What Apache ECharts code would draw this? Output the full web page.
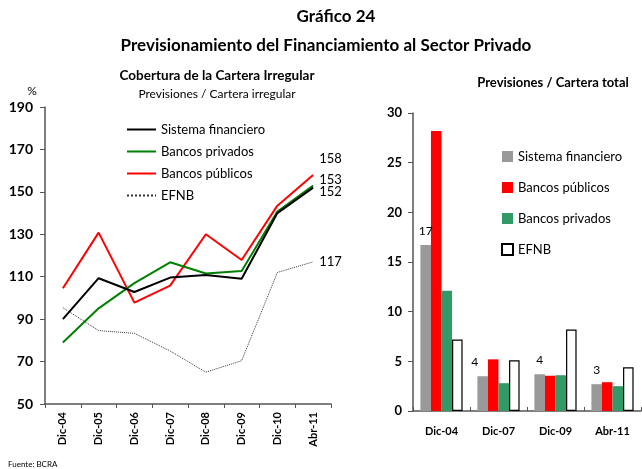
<!DOCTYPE html>
<html>
<head>
<meta charset="utf-8">
<script src="https://cdn.jsdelivr.net/npm/echarts@6/dist/echarts.min.js"></script>
<style>
  html, body { margin: 0; padding: 0; background: #fff; }
  #main { width: 642px; height: 469px; }
</style>
</head>
<body>
<div id="main"></div>
<script>
// cobertura de la cartera irregular (%)
const years = ['Dic-04', 'Dic-05', 'Dic-06', 'Dic-07', 'Dic-08', 'Dic-09', 'Dic-10', 'Abr-11'];
const sistema = [90, 109.3, 102.8, 109.6, 110.8, 109, 140, 152];
const privados = [79, 95.1, 107, 116.8, 111.5, 112.7, 140.7, 153];
const publicos = [104.6, 130.8, 97.8, 105.8, 130, 117.9, 143.5, 158];
const efnb = [95.4, 84.6, 83.3, 75, 65, 70.4, 112, 117];
const leftTicks = [50, 70, 90, 110, 130, 150, 170, 190];

// previsiones / cartera total
const barCats = ['Dic-04', 'Dic-07', 'Dic-09', 'Abr-11'];
const barSistema = [16.7, 3.5, 3.7, 2.7];
const barPublicos = [28.2, 5.2, 3.55, 2.9];
const barPrivados = [12.1, 2.8, 3.6, 2.5];
const barEfnb = [7.2, 5.1, 8.2, 4.4];

const FONT = 'Lato, "Open Sans", sans-serif';
const axisCol = '#555';
const P = 'T-'; // prefijo para separar las leyendas de barras

const chart = echarts.init(document.getElementById('main'));

function lineSerie(name, data, color, type, width, dy) {
  return {
    name: name, type: 'line', xAxisIndex: 0, yAxisIndex: 0,
    data: data, symbol: 'none', animation: false,
    lineStyle: { color: color, width: width, type: type },
    itemStyle: { color: color },
    endLabel: {
      show: true, distance: 6, offset: [0, dy], color: '#000',
      fontFamily: FONT, fontSize: 13, formatter: p => p.value
    }
  };
}

function barSerie(name, data, color, border) {
  return {
    name: P + name, type: 'bar', xAxisIndex: 1, yAxisIndex: 1,
    data: data, barGap: '0%', barCategoryGap: '26%', animation: false,
    itemStyle: { color: color, borderColor: border ? '#000' : color, borderWidth: border ? 1.2 : 0 }
  };
}

const sisBar = barSerie('Sistema financiero', barSistema, '#999999', false);
sisBar.label = {
  show: true, position: 'top', distance: 8, color: '#000', fontFamily: FONT, fontSize: 12,
  formatter: p => Math.round(p.value)
};
sisBar.data = barSistema.map((v, i) => i === 1 ? { value: v, label: { offset: [-8, 0] } } : v);

function txt(text, x, y, font, align) {
  return { type: 'text', style: { text: text, x: x, y: y, textAlign: align || 'center', textVerticalAlign: 'middle', font: font + ' ' + FONT, fill: '#000' } };
}

const option = {
  animation: false,
  textStyle: { fontFamily: FONT },
  graphic: [
    txt('Gráfico 24', 336, 17, 'bold 17px'),
    txt('Previsionamiento del Financiamiento al Sector Privado', 326, 46, 'bold 17px'),
    txt('Cobertura de la Cartera Irregular', 217, 76, 'bold 13.5px'),
    txt('Previsiones / Cartera irregular', 217, 94, '12px'),
    txt('%', 32, 91, '12px'),
    txt('Previsiones / Cartera total', 553, 83, 'bold 13px'),
    txt('Fuente: BCRA', 8, 464, '8px', 'left')
  ],
  legend: [
    {
      data: ['Sistema financiero', 'Bancos privados', 'Bancos públicos', 'EFNB'],
      orient: 'vertical', left: 121, top: 118, itemWidth: 29, itemHeight: 14, itemGap: 9,
      itemStyle: { opacity: 0 },
      textStyle: { fontFamily: FONT, fontSize: 13, color: '#000' }, selectedMode: false
    },
    {
      data: [P + 'Sistema financiero', P + 'Bancos públicos', P + 'Bancos privados', P + 'EFNB'],
      orient: 'vertical', left: 496, top: 145, itemWidth: 11, itemHeight: 11, itemGap: 18,
      icon: 'rect', formatter: n => n.replace(P, ''),
      textStyle: { fontFamily: FONT, fontSize: 13, color: '#000' }, selectedMode: false
    }
  ],
  grid: [
    { left: 45, top: 107, width: 286, height: 297 },
    { left: 413, top: 113, width: 228, height: 298 }
  ],
  xAxis: [
    {
      type: 'category', gridIndex: 0, data: years, boundaryGap: true,
      axisLine: { lineStyle: { color: axisCol, width: 1.5 } },
      axisTick: { show: true, length: 4, inside: false, lineStyle: { color: axisCol } },
      axisLabel: { rotate: 90, margin: 8, color: '#000', fontFamily: FONT, fontWeight: 'bold', fontSize: 11 }
    },
    {
      type: 'category', gridIndex: 1, data: barCats, boundaryGap: true,
      axisLine: { lineStyle: { color: axisCol, width: 1.5 } },
      axisTick: { show: true, length: 4, inside: true, lineStyle: { color: axisCol } },
      axisLabel: { margin: 15, color: '#000', fontFamily: FONT, fontWeight: 'bold', fontSize: 11 }
    }
  ],
  yAxis: [
    {
      type: 'value', gridIndex: 0, min: leftTicks[0], max: leftTicks[leftTicks.length - 1], interval: 20,
      axisLine: { show: true, lineStyle: { color: axisCol, width: 1.5 } },
      axisTick: { show: true, length: 5, lineStyle: { color: axisCol } },
      splitLine: { show: false },
      axisLabel: { margin: 12, color: '#000', fontFamily: FONT, fontWeight: 'bold', fontSize: 14 }
    },
    {
      type: 'value', gridIndex: 1, min: 0, max: 30, interval: 5,
      axisLine: { show: true, lineStyle: { color: axisCol, width: 1.5 } },
      axisTick: { show: true, length: 5, lineStyle: { color: axisCol } },
      splitLine: { show: false },
      axisLabel: { margin: 11, color: '#000', fontFamily: FONT, fontWeight: 'bold', fontSize: 13 }
    }
  ],
  series: [
    lineSerie('EFNB', efnb, '#333', 'dotted', 1, 0),
    lineSerie('Bancos públicos', publicos, '#ff0000', 'solid', 2, -16),
    lineSerie('Bancos privados', privados, '#008000', 'solid', 2, -6),
    lineSerie('Sistema financiero', sistema, '#000000', 'solid', 2, 4),
    sisBar,
    barSerie('Bancos públicos', barPublicos, '#ff0000', false),
    barSerie('Bancos privados', barPrivados, '#339966', false),
    barSerie('EFNB', barEfnb, '#ffffff', true)
  ]
};

chart.setOption(option);
window.onresize = function () {
  chart.resize();
};
</script>
</body>
</html>
